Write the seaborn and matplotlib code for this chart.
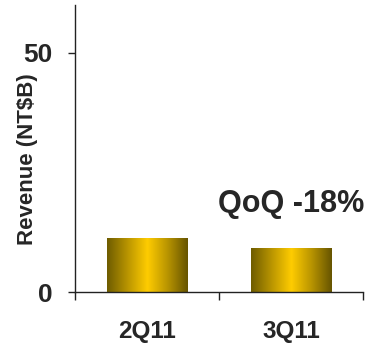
import matplotlib
matplotlib.use("Agg")
import matplotlib.pyplot as plt
import seaborn as sns
import numpy as np
import pandas as pd
from matplotlib.colors import LinearSegmentedColormap

categories = ["2Q11", "3Q11"]
revenue = [11.3, 9.3]
annotation = "QoQ -18%"
y_ticks = [0, 50]

sns.set_style("white")
plt.rcParams['font.family'] = ['Liberation Sans', 'DejaVu Sans']
plt.rcParams['font.weight'] = 'bold'

df = pd.DataFrame({"quarter": categories, "revenue": revenue})

fig = plt.figure(figsize=(3.68, 3.45), dpi=100)
ax = fig.add_axes([75/368, 1-292/345, 288/368, 287/345])

sns.barplot(data=df, x="quarter", y="revenue", ax=ax, width=0.5625,
            color="#ffcc00", saturation=1, linewidth=0)

cmap = LinearSegmentedColormap.from_list("gold", [
    (0.0, "#6e5c00"), (0.25, "#b89400"), (0.5, "#ffcc00"),
    (0.75, "#b89400"), (1.0, "#665400")])
grad = np.linspace(0, 1, 256).reshape(1, -1)
for p in ax.patches:
    x0, y0 = p.get_x(), p.get_y()
    w, h = p.get_width(), p.get_height()
    p.set_facecolor("none")
    im = ax.imshow(grad, cmap=cmap, aspect="auto",
                   extent=[x0, x0 + w, y0, y0 + h], zorder=2)
    im.set_clip_path(p)

ax.set_xlim(-0.5, 1.5)
ax.set_ylim(0, 60)
ax.set_yticks(y_ticks)
ax.set_yticklabels([str(v) for v in y_ticks], fontsize=19, fontweight='bold')
ax.set_xticks([-0.5, 0.5, 1.5])
ax.set_xticklabels([])
ax.set_xticks([0, 1], minor=True)
ax.set_xticklabels(categories, minor=True, fontsize=17.5, fontweight='bold')
ax.tick_params(axis='x', which='major', direction='out', length=6, width=1, color='#222222', bottom=True)
ax.tick_params(axis='x', which='minor', length=0, pad=20)
ax.tick_params(axis='y', direction='out', length=5, width=1, color='#222222', pad=11, left=True)

for s in ["top", "right"]:
    ax.spines[s].set_visible(False)
for s in ["left", "bottom"]:
    ax.spines[s].set_color("#222222")
    ax.spines[s].set_linewidth(1)

ax.set_xlabel("")
ax.set_ylabel("Revenue (NT$B)", fontsize=16, fontweight='bold')
ax.yaxis.set_label_coords(-0.128, 0.463)

ax.text(1, 18.4, annotation, ha="center", va="center", fontsize=22, fontweight='bold')

fig.savefig("out.png", dpi=100)
